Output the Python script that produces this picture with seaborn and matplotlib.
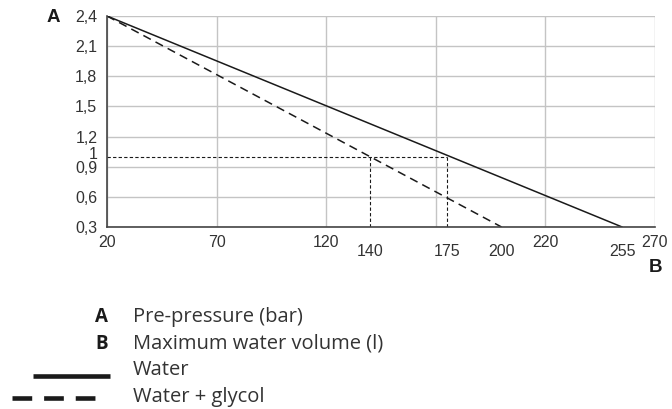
import matplotlib
matplotlib.use("Agg")
import matplotlib.pyplot as plt
import matplotlib.transforms as mtransforms
from matplotlib.lines import Line2D
import seaborn as sns
import pandas as pd

# chart values
water_volume = [20, 255]
water_pressure = [2.4, 0.3]
glycol_volume = [20, 200]
glycol_pressure = [2.4, 0.3]
ref_volume = [140, 175]
ref_pressure = 1.0

x_major = [20, 70, 120, 170, 220, 270]
x_major_labels = ["20", "70", "120", "", "220", "270"]
x_extra = [140, 175, 200, 255]
y_major = [0.3, 0.6, 0.9, 1.2, 1.5, 1.8, 2.1, 2.4]

legend_items = [("A", "Pre-pressure (bar)"), ("B", "Maximum water volume (l)")]
series_names = ["Water", "Water + glycol"]

sns.set_style("white")
plt.rcParams["font.family"] = ["Liberation Sans", "DejaVu Sans"]

df = pd.concat([
    pd.DataFrame({"volume": water_volume, "pressure": water_pressure, "series": series_names[0]}),
    pd.DataFrame({"volume": glycol_volume, "pressure": glycol_pressure, "series": series_names[1]}),
])

ink = "#1a1a1a"
txt_col = "#333333"
fig = plt.figure(figsize=(6.72, 4.09), dpi=100)
ax = fig.add_axes([107 / 672, 1 - 227 / 409, 548 / 672, 211 / 409])

sns.lineplot(data=df[df.series == series_names[0]], x="volume", y="pressure",
             ax=ax, color=ink, lw=1.1, legend=False)
sns.lineplot(data=df[df.series == series_names[1]], x="volume", y="pressure",
             ax=ax, color=ink, lw=1.1, legend=False)
ax.lines[-1].set_linestyle((0, (5.5, 3.5)))

# reference lines at 1 bar
ax.plot([x_major[0], ref_volume[1]], [ref_pressure, ref_pressure], color=ink, lw=0.8, ls=(0, (3, 2)))
for v in ref_volume:
    ax.plot([v, v], [y_major[0], ref_pressure], color=ink, lw=0.8, ls=(0, (3, 2)))

ax.set_xlim(20, 270)
ax.set_ylim(0.3, 2.4)
ax.set_xlabel("")
ax.set_ylabel("")

ax.set_xticks(x_major)
ax.set_xticklabels(x_major_labels)
ax.set_xticks(x_extra, minor=True)
ax.set_xticklabels([str(v) for v in x_extra], minor=True)
ax.set_yticks(y_major)
ax.set_yticklabels([f"{v:.1f}".replace(".", ",") for v in y_major])
ax.set_yticks([ref_pressure], minor=True)
ax.set_yticklabels(["1"], minor=True)

ax.grid(True, which="major", color="#c4c4c4", lw=1)
ax.tick_params(which="major", direction="out", length=4, width=1, color="#444444",
               labelsize=11.5, labelcolor=txt_col, pad=3)
ax.tick_params(axis="x", which="major", pad=2)
ax.tick_params(axis="x", which="minor", direction="out", length=4, width=1, color="#444444",
               labelsize=11.5, labelcolor=txt_col, pad=8)
ax.tick_params(axis="y", which="minor", length=0, labelsize=11.5, labelcolor=txt_col, pad=7)
ax.set_axisbelow(True)

# lift the cramped "1" label a little, as in the original
for lab in ax.yaxis.get_minorticklabels():
    lab.set_transform(lab.get_transform() + mtransforms.ScaledTranslation(0, 2.5 / 72, fig.dpi_scale_trans))

for s in ["top", "right"]:
    ax.spines[s].set_visible(False)
for s in ["left", "bottom"]:
    ax.spines[s].set_color("#444444")
    ax.spines[s].set_linewidth(1.2)

fig.text(53 / 672, 1 - 17 / 409, "A", fontsize=13.5, fontweight="bold", ha="center", va="center", color=ink)
fig.text(656 / 672, 1 - 268 / 409, "B", fontsize=13.5, fontweight="bold", ha="center", va="center", color=ink)

# legend block
leg_font = ["Open Sans", "DejaVu Sans"]
for i, (key, txt) in enumerate(legend_items):
    y = 1 - (317 + 27 * i) / 409
    fig.text(108 / 672, y, key, fontsize=13.5, fontweight="bold", ha="right", va="center", color=ink, family=leg_font)
    fig.text(133 / 672, y, txt, fontsize=14.5, ha="left", va="center", color=txt_col, family=leg_font)

y_w = 1 - 370 / 409
fig.add_artist(Line2D([33 / 672, 110 / 672], [1 - 376 / 409] * 2, color=ink, lw=3.3, solid_capstyle="butt"))
fig.text(133 / 672, y_w, series_names[0], fontsize=14.5, ha="left", va="center", color=txt_col, family=leg_font)
y_g = 1 - 397 / 409
fig.add_artist(Line2D([12 / 672, 97 / 672], [1 - 398 / 409] * 2, color=ink, lw=3.3,
                      ls=(0, (4.3, 2.6)), dash_capstyle="butt"))
fig.text(133 / 672, y_g, series_names[1], fontsize=14.5, ha="left", va="center", color=txt_col, family=leg_font)

fig.savefig("out.png", dpi=100)
